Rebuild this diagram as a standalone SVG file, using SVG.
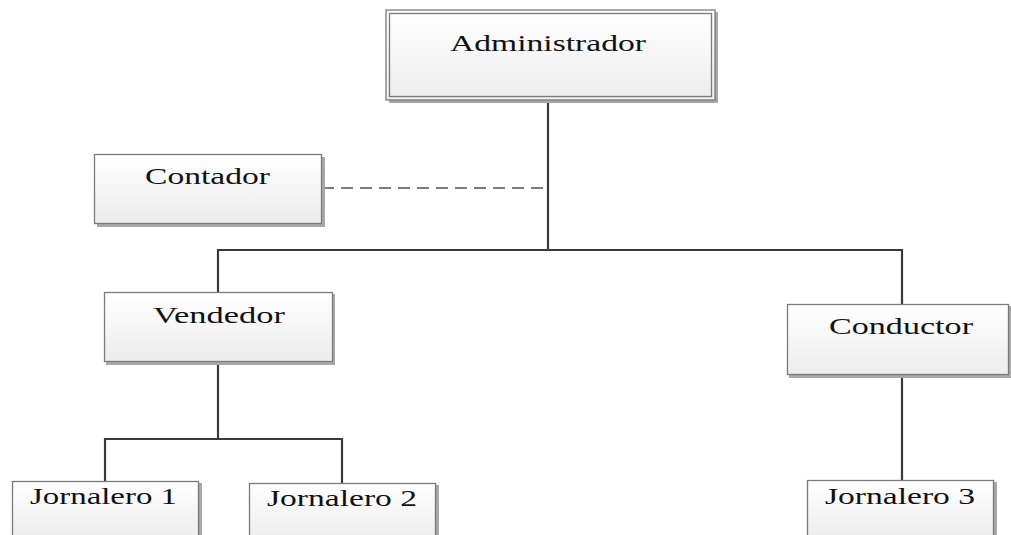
<svg xmlns="http://www.w3.org/2000/svg" width="1011" height="535" viewBox="0 0 1011 535">
  <defs>
    <linearGradient id="boxFill" x1="0" y1="0" x2="0" y2="1">
      <stop offset="0" stop-color="#ffffff"/>
      <stop offset="1" stop-color="#ececec"/>
    </linearGradient>
  </defs>
  <style>
    .shadow { fill: #a8a8a8; }
    .box { fill: url(#boxFill); stroke: #7a7a7a; stroke-width: 1.3; }
    .inner { fill: none; stroke: #7a7a7a; stroke-width: 1.3; }
    .label { font-family: "Liberation Serif", "Times New Roman", serif; font-size: 23px; fill: #111; }
    .link { fill: none; stroke: #3a3a3a; stroke-width: 2.2; }
    .dashed { fill: none; stroke: #505050; stroke-width: 1.3; stroke-dasharray: 12 7; }
  </style>

  <rect width="1011" height="535" fill="#ffffff"/>

  <g id="connectors">
    <path class="link" d="M548 100 V250"/>
    <path class="link" d="M218 292 V250 H902 V304"/>
    <path class="dashed" d="M322 188 H548"/>
    <path class="link" d="M218 362 V439"/>
    <path class="link" d="M105 481 V439 H342 V483"/>
    <path class="link" d="M902 375 V480"/>
  </g>

  <g id="administrador">
    <rect class="shadow" x="389" y="12" width="329" height="91"/>
    <rect class="box" x="386" y="10" width="329" height="90"/>
    <rect class="inner" x="389.5" y="13.5" width="322" height="83"/>
    <text class="label" x="450" y="51" font-size="24" textLength="196" lengthAdjust="spacingAndGlyphs">Administrador</text>
  </g>

  <g id="contador">
    <rect class="shadow" x="97" y="157" width="228" height="70"/>
    <rect class="box" x="94.5" y="154.5" width="227" height="69"/>
    <text class="label" x="145" y="184" textLength="125" lengthAdjust="spacingAndGlyphs">Contador</text>
  </g>

  <g id="vendedor">
    <rect class="shadow" x="106" y="294" width="229" height="71"/>
    <rect class="box" x="104.5" y="292.5" width="228" height="69"/>
    <text class="label" x="153" y="323" textLength="132" lengthAdjust="spacingAndGlyphs">Vendedor</text>
  </g>

  <g id="conductor">
    <rect class="shadow" x="789" y="306" width="222" height="72"/>
    <rect class="box" x="787.5" y="304.5" width="221" height="70"/>
    <text class="label" x="829" y="334" textLength="144" lengthAdjust="spacingAndGlyphs">Conductor</text>
  </g>

  <g id="jornalero-1">
    <rect class="shadow" x="14" y="483" width="188" height="60"/>
    <rect class="box" x="12.5" y="481.5" width="186" height="60"/>
    <text class="label" x="30" y="504" textLength="147" lengthAdjust="spacingAndGlyphs">Jornalero 1</text>
  </g>

  <g id="jornalero-2">
    <rect class="shadow" x="251" y="485" width="188" height="60"/>
    <rect class="box" x="249.5" y="483.5" width="186" height="60"/>
    <text class="label" x="267" y="506" textLength="150" lengthAdjust="spacingAndGlyphs">Jornalero 2</text>
  </g>

  <g id="jornalero-3">
    <rect class="shadow" x="809" y="482" width="188" height="60"/>
    <rect class="box" x="807.5" y="480.5" width="186" height="60"/>
    <text class="label" x="825" y="504" textLength="150" lengthAdjust="spacingAndGlyphs">Jornalero 3</text>
  </g>
</svg>
